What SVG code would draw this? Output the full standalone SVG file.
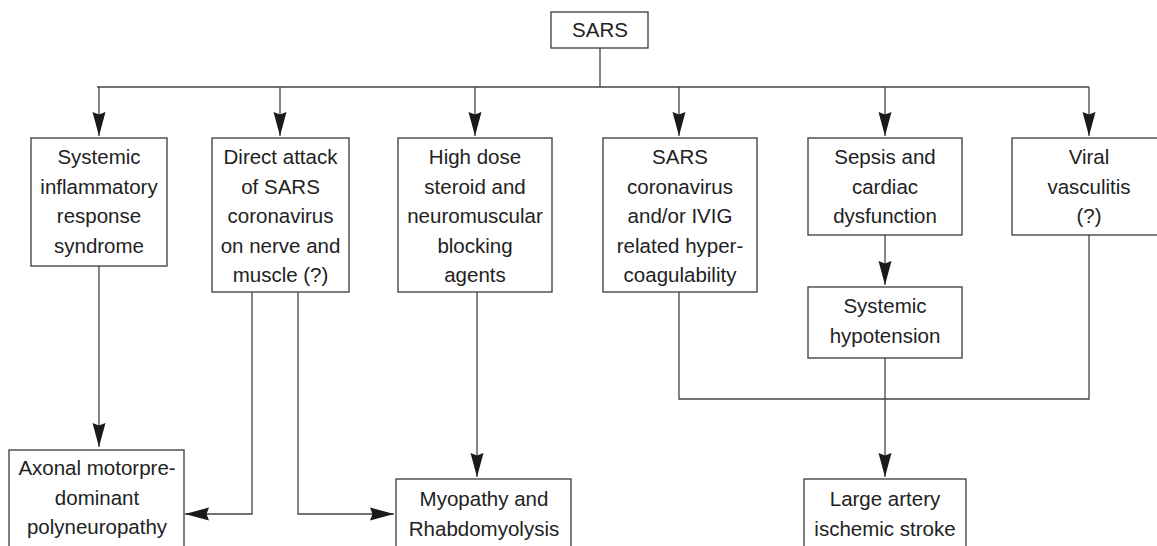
<svg xmlns="http://www.w3.org/2000/svg" width="1157" height="546" viewBox="0 0 1157 546">
<style>
.box{fill:#fff;stroke:#3a3a3a;stroke-width:1.3}
.t{font-family:"Liberation Sans",Arial,sans-serif;font-size:20.5px;fill:#222;text-anchor:middle}
.c{fill:none;stroke:#444;stroke-width:1.3}
</style>
<defs>
<marker id="ah" markerUnits="userSpaceOnUse" markerWidth="25" markerHeight="14" refX="24" refY="7" orient="auto">
<path d="M0,0.5 L24,7 L0,13.5 L2.5,7 z" fill="#1a1a1a"/>
</marker>
</defs>
<rect width="1157" height="546" fill="#fff"/>
<g id="connectors">
<path class="c" d="M600,48 V87 M97,87 H1089"/>
<path class="c" d="M99,87 V136" marker-end="url(#ah)"/>
<path class="c" d="M280,87 V136" marker-end="url(#ah)"/>
<path class="c" d="M475,87 V136" marker-end="url(#ah)"/>
<path class="c" d="M679,87 V136" marker-end="url(#ah)"/>
<path class="c" d="M885,87 V136" marker-end="url(#ah)"/>
<path class="c" d="M1089,87 V136" marker-end="url(#ah)"/>
<path class="c" d="M885,235 V285" marker-end="url(#ah)"/>
<path class="c" d="M99,266 V447" marker-end="url(#ah)"/>
<path class="c" d="M252,292 V514 H185" marker-end="url(#ah)"/>
<path class="c" d="M298,292 V514 H394" marker-end="url(#ah)"/>
<path class="c" d="M477,292 V477" marker-end="url(#ah)"/>
<path class="c" d="M679,292 V399 H1089 V235"/>
<path class="c" d="M885,358 V477" marker-end="url(#ah)"/>
</g>
<g id="sars"><rect class="box" x="551" y="12" width="97" height="36"/><text class="t" x="600" y="37">SARS</text></g>
<g id="sirs"><rect class="box" x="31" y="138" width="136" height="128"/>
<text class="t" x="99" y="164">Systemic</text><text class="t" x="99" y="193.5">inflammatory</text><text class="t" x="99" y="223">response</text><text class="t" x="99" y="252.5">syndrome</text></g>
<g id="direct"><rect class="box" x="212" y="138" width="137" height="154"/>
<text class="t" x="280.5" y="164">Direct attack</text><text class="t" x="280.5" y="193.5">of SARS</text><text class="t" x="280.5" y="223">coronavirus</text><text class="t" x="280.5" y="252.5">on nerve and</text><text class="t" x="280.5" y="282">muscle (?)</text></g>
<g id="steroid"><rect class="box" x="398" y="138" width="154" height="154"/>
<text class="t" x="475" y="164">High dose</text><text class="t" x="475" y="193.5">steroid and</text><text class="t" x="475" y="223">neuromuscular</text><text class="t" x="475" y="252.5">blocking</text><text class="t" x="475" y="282">agents</text></g>
<g id="hypercoag"><rect class="box" x="603" y="138" width="154" height="154"/>
<text class="t" x="680" y="164">SARS</text><text class="t" x="680" y="193.5">coronavirus</text><text class="t" x="680" y="223">and/or IVIG</text><text class="t" x="680" y="252.5">related hyper-</text><text class="t" x="680" y="282">coagulability</text></g>
<g id="sepsis"><rect class="box" x="808" y="138" width="154" height="97"/>
<text class="t" x="885" y="164">Sepsis and</text><text class="t" x="885" y="193.5">cardiac</text><text class="t" x="885" y="223">dysfunction</text></g>
<g id="vasculitis"><rect class="box" x="1012" y="138" width="155" height="97"/>
<text class="t" x="1089" y="164">Viral</text><text class="t" x="1089" y="193.5">vasculitis</text><text class="t" x="1089" y="223">(?)</text></g>
<g id="hypotension"><rect class="box" x="808" y="287" width="154" height="71"/>
<text class="t" x="885" y="313">Systemic</text><text class="t" x="885" y="342.5">hypotension</text></g>
<g id="axonal"><rect class="box" x="9" y="450" width="175" height="110"/>
<text class="t" x="97" y="475">Axonal motorpre-</text><text class="t" x="97" y="504.5">dominant</text><text class="t" x="97" y="534">polyneuropathy</text></g>
<g id="myopathy"><rect class="box" x="396" y="479" width="175" height="80"/>
<text class="t" x="484" y="506">Myopathy and</text><text class="t" x="484" y="535.5">Rhabdomyolysis</text></g>
<g id="stroke"><rect class="box" x="804" y="479" width="162" height="80"/>
<text class="t" x="885" y="506">Large artery</text><text class="t" x="885" y="535.5">ischemic stroke</text></g>
</svg>
